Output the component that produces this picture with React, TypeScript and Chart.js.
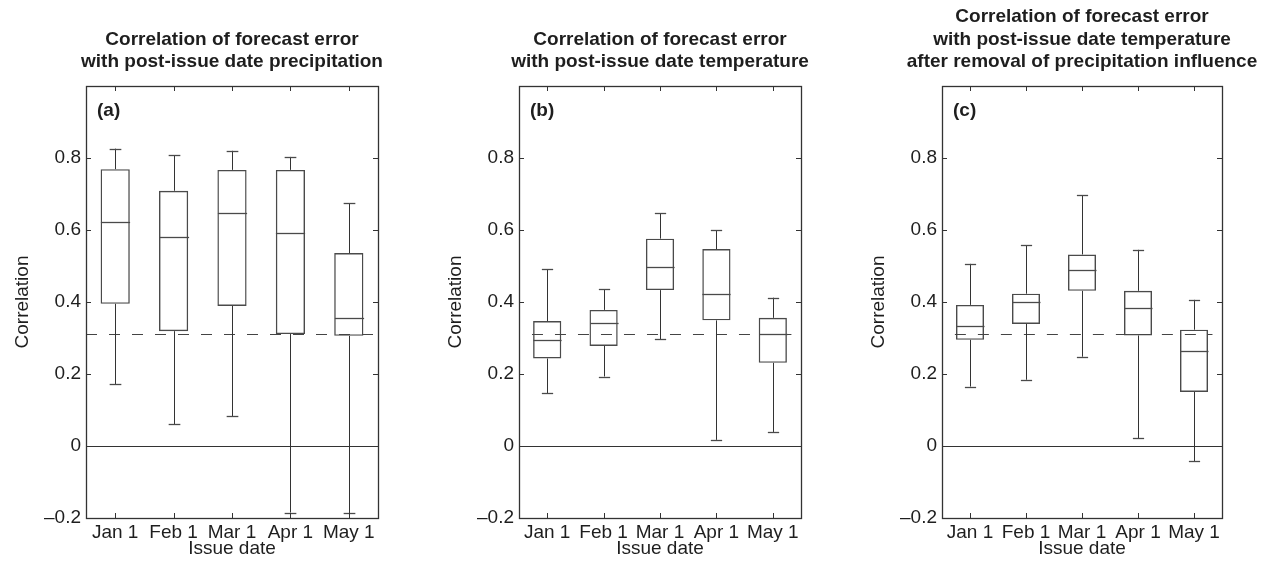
import React, { useEffect, useRef } from "react";
import { Chart, registerables } from "chart.js";

Chart.register(...registerables);

const FONT = "'Liberation Sans', Arial, Helvetica, sans-serif";
const TEXT = "#1e1e1e";
const LINE = "#333333";
const BOX = "#4a4a4a";

// ---- shared labels ----
const issueDates = ["Jan 1", "Feb 1", "Mar 1", "Apr 1", "May 1"];
const yTickValues = [-0.2, 0, 0.2, 0.4, 0.6, 0.8, 1.0];
const yTickLabels = ["\u20130.2", "0", "0.2", "0.4", "0.6", "0.8", ""];
const significanceLevel = 0.31;

// ---- (a) precipitation ----
const precipLow = [0.172, 0.061, 0.083, -0.185, -0.187];
const precipQ1 = [0.395, 0.319, 0.389, 0.311, 0.306];
const precipMedian = [0.622, 0.581, 0.647, 0.592, 0.356];
const precipQ3 = [0.769, 0.709, 0.767, 0.767, 0.536];
const precipHigh = [0.826, 0.807, 0.82, 0.803, 0.674];

// ---- (b) temperature ----
const tempLow = [0.147, 0.193, 0.297, 0.017, 0.039];
const tempQ1 = [0.243, 0.278, 0.433, 0.349, 0.231];
const tempMedian = [0.295, 0.342, 0.496, 0.421, 0.31];
const tempQ3 = [0.347, 0.378, 0.576, 0.547, 0.356];
const tempHigh = [0.491, 0.435, 0.646, 0.599, 0.412];

// ---- (c) temperature after removal of precipitation influence ----
const partialLow = [0.165, 0.184, 0.248, 0.022, -0.043];
const partialQ1 = [0.295, 0.339, 0.431, 0.307, 0.15];
const partialMedian = [0.334, 0.399, 0.489, 0.384, 0.264];
const partialQ3 = [0.392, 0.423, 0.532, 0.431, 0.323];
const partialHigh = [0.506, 0.557, 0.696, 0.545, 0.406];

const titleA = ["Correlation of forecast error", "with post-issue date precipitation"];
const titleB = ["Correlation of forecast error", "with post-issue date temperature"];
const titleC = [
  "Correlation of forecast error",
  "with post-issue date temperature",
  "after removal of precipitation influence",
];

type PanelCfg = {
  left: number;
  width: number;
  rightPad: number;
  letter: string;
  title: string[];
  low: number[];
  q1: number[];
  median: number[];
  q3: number[];
  high: number[];
  dashFrom: number | null;
  dashTo: number | null;
};

const panels: PanelCfg[] = [
  {
    left: 0, width: 398, rightPad: 20, letter: "(a)", title: titleA,
    low: precipLow, q1: precipQ1, median: precipMedian, q3: precipQ3, high: precipHigh,
    dashFrom: null, dashTo: null,
  },
  {
    left: 433, width: 388, rightPad: 20, letter: "(b)", title: titleB,
    low: tempLow, q1: tempQ1, median: tempMedian, q3: tempQ3, high: tempHigh,
    dashFrom: -0.27, dashTo: 4.33,
  },
  {
    left: 856, width: 414, rightPad: 48, letter: "(c)", title: titleC,
    low: partialLow, q1: partialQ1, median: partialMedian, q3: partialQ3, high: partialHigh,
    dashFrom: -0.27, dashTo: 4.33,
  },
];

const crisp = (v: number) => Math.round(v) + 0.5;

const decorPlugin = {
  id: "boxDecor",
  afterDatasetsDraw(chart: any) {
    const cfg: PanelCfg = chart.options.plugins.boxDecor.cfg;
    const { ctx, chartArea: a } = chart;
    const x = chart.scales.x;
    const y = chart.scales.y;
    const catW = x.getPixelForValue(1) - x.getPixelForValue(0);
    const seg = (x1: number, y1: number, x2: number, y2: number) => {
      ctx.beginPath();
      ctx.moveTo(x1, y1);
      ctx.lineTo(x2, y2);
      ctx.stroke();
    };
    ctx.save();
    // zero line
    ctx.strokeStyle = LINE;
    ctx.lineWidth = 1;
    const y0 = crisp(y.getPixelForValue(0));
    seg(a.left, y0, a.right, y0);
    // significance dashed line
    const ys = crisp(y.getPixelForValue(significanceLevel));
    const dx1 = cfg.dashFrom === null ? a.left : x.getPixelForValue(0) + cfg.dashFrom * catW;
    const dx2 = cfg.dashTo === null ? a.right : x.getPixelForValue(0) + cfg.dashTo * catW;
    ctx.strokeStyle = "#444";
    ctx.setLineDash([11, 12]);
    seg(dx1, ys, dx2, ys);
    ctx.setLineDash([]);
    // whiskers, caps, medians
    for (let i = 0; i < issueDates.length; i++) {
      const cx = crisp(x.getPixelForValue(i));
      const capHalf = catW * 0.1;
      const boxHalf = catW * 0.25;
      const pLow = y.getPixelForValue(cfg.low[i]);
      const pQ1 = y.getPixelForValue(cfg.q1[i]);
      const pQ3 = y.getPixelForValue(cfg.q3[i]);
      const pHigh = y.getPixelForValue(cfg.high[i]);
      const pMed = crisp(y.getPixelForValue(cfg.median[i]));
      ctx.strokeStyle = LINE;
      ctx.lineWidth = 1;
      seg(cx, pQ1, cx, pLow);
      seg(cx, pQ3, cx, pHigh);
      ctx.lineWidth = 1.3;
      ctx.strokeStyle = BOX;
      seg(cx - capHalf, crisp(pLow), cx + capHalf, crisp(pLow));
      seg(cx - capHalf, crisp(pHigh), cx + capHalf, crisp(pHigh));
      seg(cx - boxHalf, pMed, cx + boxHalf, pMed);
    }
    // frame
    ctx.strokeStyle = LINE;
    ctx.lineWidth = 1.3;
    ctx.strokeRect(crisp(a.left), crisp(a.top), Math.round(a.width), Math.round(a.height));
    // inner tick marks
    ctx.lineWidth = 1;
    const tl = 5;
    for (const v of yTickValues) {
      const py = crisp(y.getPixelForValue(v));
      seg(a.left, py, a.left + tl, py);
      seg(a.right - tl, py, a.right, py);
    }
    for (let i = 0; i < issueDates.length; i++) {
      const px = crisp(x.getPixelForValue(i));
      seg(px, a.bottom, px, a.bottom - tl);
      seg(px, a.top, px, a.top + tl);
    }
    // panel letter
    ctx.fillStyle = TEXT;
    ctx.font = `bold 19px ${FONT}`;
    ctx.textAlign = "left";
    ctx.textBaseline = "alphabetic";
    ctx.fillText(cfg.letter, a.left + 11, a.top + 30);
    // title
    ctx.textAlign = "center";
    const cxTitle = (a.left + a.right) / 2;
    const n = cfg.title.length;
    cfg.title.forEach((line, i) => {
      ctx.fillText(line, cxTitle, 67 - (n - 1 - i) * 22.5);
    });
    ctx.restore();
  },
};

function Panel({ cfg }: { cfg: PanelCfg }) {
  const ref = useRef<HTMLCanvasElement>(null);
  useEffect(() => {
    const chart = new Chart(ref.current as HTMLCanvasElement, {
      type: "bar",
      data: {
        labels: issueDates,
        datasets: [
          {
            label: "Interquartile range",
            data: cfg.q1.map((v, i) => [v, cfg.q3[i]]) as any,
            backgroundColor: "rgba(255,255,255,0)",
            borderColor: BOX,
            borderWidth: 1.4,
            borderSkipped: false,
            barPercentage: 0.5,
            categoryPercentage: 1,
          },
        ],
      },
      options: {
        responsive: false,
        animation: false,
        devicePixelRatio: 1,
        layout: { padding: { top: 86, right: cfg.rightPad, bottom: 0, left: 0 } },
        plugins: {
          legend: { display: false },
          tooltip: { enabled: false },
          title: { display: false },
          boxDecor: { cfg },
        } as any,
        scales: {
          x: {
            type: "category",
            offset: true,
            grid: { display: false, drawTicks: false },
            border: { display: false },
            ticks: {
              font: { family: FONT, size: 19 },
              color: TEXT,
              padding: 3,
              maxRotation: 0,
              autoSkip: false,
            },
            title: {
              display: true,
              text: "Issue date",
              font: { family: FONT, size: 19, lineHeight: 1 },
              color: TEXT,
              padding: { top: 0, bottom: 5 },
            },
            afterFit: (s: any) => {
              s.height = 45;
            },
          },
          y: {
            type: "linear",
            min: -0.2,
            max: 1.0,
            grid: { display: false, drawTicks: false },
            border: { display: false },
            afterBuildTicks: (s: any) => {
              s.ticks = yTickValues.map((v) => ({ value: v }));
            },
            ticks: {
              font: { family: FONT, size: 19 },
              color: TEXT,
              padding: 5,
              callback: (_v: any, idx: number) => yTickLabels[idx],
            },
            title: {
              display: true,
              text: "Correlation",
              font: { family: FONT, size: 19, lineHeight: 1 },
              color: TEXT,
              padding: { top: 13, bottom: 0 },
            },
            afterFit: (s: any) => {
              s.width = 86;
            },
          },
        },
      },
      plugins: [decorPlugin],
    });
    return () => chart.destroy();
  }, [cfg]);
  return (
    <canvas
      ref={ref}
      width={cfg.width}
      height={563}
      style={{ position: "absolute", left: cfg.left, top: 0, width: cfg.width, height: 563, display: "block" }}
    />
  );
}

export default function App() {
  return (
    <div
      style={{
        position: "absolute",
        left: 0,
        top: 0,
        width: 1270,
        height: 563,
        background: "#ffffff",
        overflow: "hidden",
      }}
    >
      {panels.map((p) => (
        <Panel key={p.letter} cfg={p} />
      ))}
    </div>
  );
}
